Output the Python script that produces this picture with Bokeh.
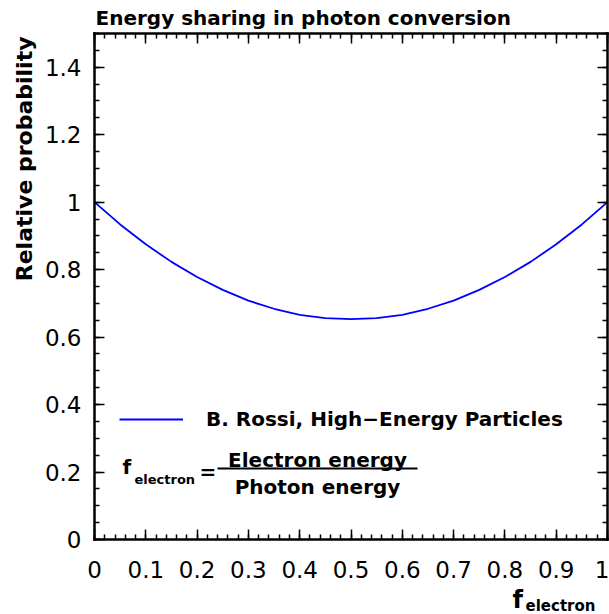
from bokeh.plotting import figure
from bokeh.models import (Range1d, LinearAxis, FixedTicker, Label, Legend, LegendItem,
                          Arrow, CustomJSTickFormatter)
from bokeh.embed import file_html
from bokeh.resources import INLINE

# ---- data ----
f_electron = [0.00, 0.05, 0.10, 0.15, 0.20, 0.25, 0.30, 0.35, 0.40, 0.45, 0.50,
              0.55, 0.60, 0.65, 0.70, 0.75, 0.80, 0.85, 0.90, 0.95, 1.00]
rel_prob = [1.000, 0.934, 0.875, 0.823, 0.778, 0.740, 0.708, 0.684, 0.666, 0.656, 0.653,
            0.656, 0.666, 0.684, 0.708, 0.740, 0.778, 0.823, 0.875, 0.934, 1.000]
x_ticks = [0.0, 0.1, 0.2, 0.3, 0.4, 0.5, 0.6, 0.7, 0.8, 0.9, 1.0]
x_tick_labels = ["0", "0.1", "0.2", "0.3", "0.4", "0.5", "0.6", "0.7", "0.8", "0.9", "1"]
y_ticks = [0.0, 0.2, 0.4, 0.6, 0.8, 1.0, 1.2, 1.4]
y_tick_labels = ["0", "0.2", "0.4", "0.6", "0.8", "1", "1.2", "1.4"]
title_text = "Energy sharing in photon conversion"
y_title = "Relative probability"
legend_label = "B. Rossi, High\u2212Energy Particles"

# ---- geometry (pixel box of the data area inside the canvas) ----
W, H = 609, 614
FL, FR, FT, FB = 94, 607, 33, 539
X0, X1, Y0, Y1 = 0.0, 1.0, 0.0, 1.5
FONT = "DejaVu Sans"


def dx(px):
    return X0 + (px - FL) / (FR - FL) * (X1 - X0)


def dy(py):
    return Y0 + (FB - py) / (FB - FT) * (Y1 - Y0)


# the plotting frame covers the whole canvas; axes are pinned at the data box edges
p = figure(width=W, height=H, x_range=Range1d(dx(0), dx(W)), y_range=Range1d(dy(H), dy(0)),
           output_backend="svg", toolbar_location=None, title=None,
           x_axis_location=None, y_axis_location=None,
           min_border_left=0, min_border_right=0, min_border_top=0, min_border_bottom=0)
p.grid.visible = False
p.outline_line_color = None
p.background_fill_color = "white"
p.border_fill_color = "white"

x_minor = [round(i * 0.02, 4) for i in range(51)]
y_minor = [round(i * 0.05, 4) for i in range(31)]

fmt_code = """
const i = tick_vals.findIndex(t => Math.abs(t - tick) < 1e-9);
return i >= 0 ? tick_texts[i] : '';
"""


def make_axis(ticks, minor, labels, show, loc, bounds, standoff=12):
    ax = LinearAxis(ticker=FixedTicker(ticks=ticks, minor_ticks=minor),
                    fixed_location=loc, bounds=bounds)
    ax.axis_line_width = 2.5
    ax.axis_line_color = "black"
    ax.axis_line_cap = "square"
    ax.major_tick_in = 10
    ax.major_tick_out = 0
    ax.minor_tick_in = 5
    ax.minor_tick_out = 0
    ax.major_tick_line_width = 1.5
    ax.minor_tick_line_width = 1.5
    ax.major_tick_line_color = "black"
    ax.minor_tick_line_color = "black"
    if show:
        ax.formatter = CustomJSTickFormatter(args=dict(tick_vals=ticks, tick_texts=labels),
                                             code=fmt_code)
        ax.major_label_text_font = FONT
        ax.major_label_text_font_size = "23px"
        ax.major_label_text_color = "black"
        ax.major_label_standoff = standoff
    else:
        ax.formatter = CustomJSTickFormatter(code="return '';")
        ax.major_label_text_font_size = "0px"
        ax.major_label_standoff = 0
    return ax


p.add_layout(make_axis(x_ticks, x_minor, x_tick_labels, True, Y0, (X0, X1), 21), "below")
p.add_layout(make_axis(y_ticks, y_minor, y_tick_labels, True, X0, (Y0, Y1), 13), "left")
p.add_layout(make_axis(x_ticks, x_minor, x_tick_labels, False, Y1, (X0, X1)), "above")
p.add_layout(make_axis(y_ticks, y_minor, y_tick_labels, False, X1, (Y0, Y1)), "right")

r = p.line(f_electron, rel_prob, line_color="#0000ff", line_width=1.8)

legend = Legend(items=[LegendItem(label=legend_label, renderers=[r])],
                location=(FL + 25, (H - FB) + 108), glyph_width=64, glyph_height=20,
                label_height=20, label_standoff=23, padding=0, margin=0, spacing=0,
                border_line_alpha=0, background_fill_alpha=0,
                label_text_font=FONT, label_text_font_style="bold",
                label_text_font_size="20px", label_text_color="black")
p.add_layout(legend)


def lab(x, y, text, size, align="left", angle=0, bold=True):
    p.add_layout(Label(x=x, y=y, text=text, text_font=FONT,
                       text_font_style="bold" if bold else "normal",
                       text_font_size=size, text_align=align, text_baseline="middle",
                       text_color="black", angle=angle, angle_units="deg"))


# title and axis titles (positions are visual centres in canvas pixels)
lab(dx(95), dy(17), title_text, "20px")
lab(dx(24), dy(36), y_title, "22px", align="right", angle=90)
lab(dx(512), dy(599), "f", "24px")
lab(dx(525), dy(605), "electron", "15px")

# formula
lab(dx(122), dy(466), "f", "20px")
lab(dx(134), dy(479), "electron", "13px")
lab(dx(199), dy(471), "=", "20px")
lab(dx(317), dy(459), "Electron energy", "20px", align="center")
lab(dx(317), dy(486), "Photon energy", "20px", align="center")
p.add_layout(Arrow(end=None, x_start=dx(217), y_start=dy(468), x_end=dx(417), y_end=dy(468),
                   line_color="black", line_width=2))

open("out.html", "w").write(file_html(p, INLINE))
